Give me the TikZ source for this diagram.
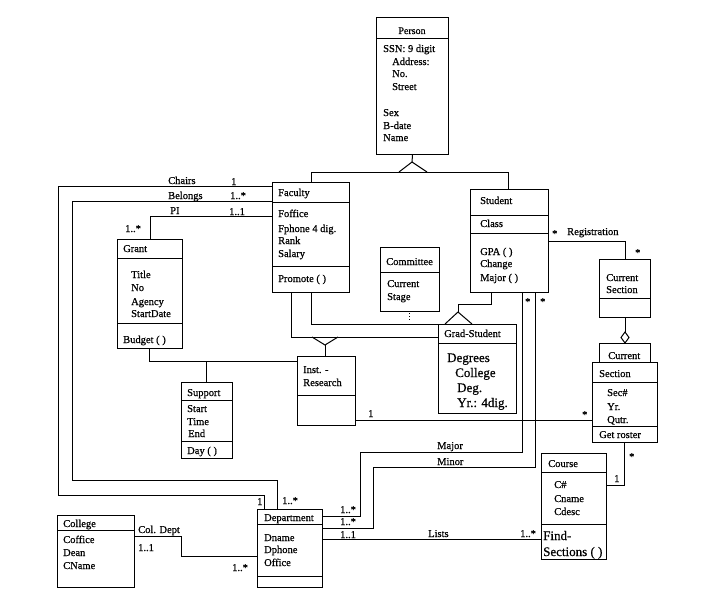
\documentclass[tikz,border=0pt]{standalone}
\usepackage{fontspec}
\setmainfont{Liberation Serif}[FakeBold=0.6]
\tikzset{
  ln/.style={line width=1pt},
  boxs/.style={draw, line width=1pt, inner sep=0pt, anchor=north west},
  txt/.style={anchor=base west, inner sep=0pt, font=\fontsize{10.5}{12}\selectfont},
  big/.style={txt, font=\fontsize{13}{15}\selectfont},
  ctr/.style={txt, anchor=base, font=\fontsize{10}{12}\selectfont},
}
\newcommand\UBox[5]{\node[boxs, minimum width=#4pt, minimum height=#5pt] (#1) at (#2,#3) {};}
\newcommand\USep[2]{\draw[ln] ([yshift=-#2pt]#1.north west) -- ([yshift=-#2pt]#1.north east);}
\newcommand\UT[4]{\node[txt] (#1) at (#2,#3) {#4};}
\newcommand\UB[4]{\node[big] (#1) at (#2,#3) {#4};}
\begin{document}
\begin{tikzpicture}[x=1pt,y=-1pt]
\useasboundingbox (0,0) rectangle (707,605);
% ---------- boxes ----------
\UBox{person}{376}{17}{72}{137} \USep{person}{21}
\UBox{fac}{272}{182}{77}{110} \USep{fac}{20} \USep{fac}{84}
\UBox{std}{470}{189}{78}{103} \USep{std}{26} \USep{std}{44}
\UBox{comm}{380}{247}{59}{64} \USep{comm}{25}
\UBox{grant}{117}{239}{65}{109} \USep{grant}{19} \USep{grant}{84}
\UBox{sup}{181}{382}{51}{76} \USep{sup}{18} \USep{sup}{59}
\UBox{inst}{297}{356}{58}{69} \USep{inst}{39}
\UBox{grad}{438}{324}{78}{89} \USep{grad}{19}
\UBox{cs}{599}{259}{51}{58} \USep{cs}{39}
\UBox{cur}{599}{343}{51}{19}
\UBox{sec}{592}{362}{65}{80} \USep{sec}{20} \USep{sec}{64}
\UBox{course}{541}{453}{65}{106} \USep{course}{19} \USep{course}{71}
\UBox{dep}{257}{509}{65}{78} \USep{dep}{15} \USep{dep}{67}
\UBox{col}{57}{515}{77}{72} \USep{col}{15}
% ---------- texts ----------
\node[ctr] (pT) at (412,34) {Person};
\UT{p1}{383}{52}{SSN: 9 digit}
\UT{p2}{392}{65}{Address:}
\UT{p3}{392}{77}{No.}
\UT{p4}{392}{90}{Street}
\UT{p5}{383}{116}{Sex}
\UT{p6}{383}{129}{B-date}
\UT{p7}{383}{141}{Name}
\UT{fT}{278}{196}{Faculty}
\UT{f1}{278}{217}{Foffice}
\UT{f2}{278}{232}{Fphone 4 dig.}
\UT{f3}{278}{244}{Rank}
\UT{f4}{278}{257}{Salary}
\UT{f5}{278}{282}{Promote ( )}
\UT{sT}{480}{204}{Student}
\UT{s1}{480}{227}{Class}
\UT{s2}{480}{255}{GPA ( )}
\UT{s3}{480}{267}{Change}
\UT{s4}{480}{281}{Major ( )}
\UT{cT}{386}{265}{Committee}
\UT{c1}{387}{287}{Current}
\UT{c2}{387}{300}{Stage}
\UT{gT}{123}{252}{Grant}
\UT{g1}{131}{278}{Title}
\UT{g2}{131}{291}{No}
\UT{g3}{131}{305}{Agency}
\UT{g4}{131}{317}{StartDate}
\UT{g5}{123}{343}{Budget ( )}
\UT{uT}{187}{396}{Support}
\UT{u1}{187}{412}{Start}
\UT{u2}{187}{425}{Time}
\UT{u3}{188}{437}{End}
\UT{u4}{187}{454}{Day ( )}
\UT{i1}{303}{373}{Inst. -}
\UT{i2}{303}{386}{Research}
\UT{rT}{444}{337}{Grad-Student}
\UB{r1}{447}{362}{Degrees}
\UB{r2}{455}{377}{College}
\UB{r3}{457}{392}{Deg.}
\UB{r4}{457}{407}{Yr.: 4dig.}
\UT{cs1}{606}{281}{Current}
\UT{cs2}{606}{293}{Section}
\UT{cuT}{608}{359}{Current}
\UT{eT}{599}{377}{Section}
\UT{e1}{607}{396}{Sec\#}
\UT{e2}{607}{410}{Yr.}
\UT{e3}{607}{423}{Qutr.}
\UT{e4}{599}{438}{Get roster}
\UT{oT}{548}{467}{Course}
\UT{o1}{554}{488}{C\#}
\UT{o2}{554}{502}{Cname}
\UT{o3}{554}{515}{Cdesc}
\UB{o4}{543}{540}{Find-}
\UB{o5}{543}{556}{Sections ( )}
\UT{dT}{264}{521}{Department}
\UT{d1}{264}{541}{Dname}
\UT{d2}{264}{553}{Dphone}
\UT{d3}{264}{566}{Office}
\UT{lT}{63}{527}{College}
\UT{l1}{63}{543}{Coffice}
\UT{l2}{63}{556}{Dean}
\UT{l3}{63}{569}{CName}
% ---------- labels ----------
\UT{a1}{168}{184}{Chairs}
\UT{a2}{231}{185}{1}
\UT{a3}{168}{199}{Belongs}
\UT{a4}{230}{199}{1..*}
\UT{a5}{170}{214}{PI}
\UT{a6}{229}{215}{1..1}
\UT{a7}{125}{232}{1..*}
\UT{a8}{552}{237}{*}
\UT{a9}{567}{235}{Registration}
\UT{a10}{635}{256}{*}
\UT{a11}{368}{417}{1}
\UT{a12}{582}{418}{*}
\UT{a13}{437}{449}{Major}
\UT{a14}{437}{465}{Minor}
\UT{a15}{629}{460}{*}
\UT{a16}{614}{482}{1}
\UT{a17}{525}{305}{*}
\UT{a18}{540}{305}{*}
\UT{a19}{340}{513}{1..*}
\UT{a20}{340}{525}{1..*}
\UT{a21}{340}{538}{1..1}
\UT{a22}{428}{537}{Lists}
\UT{a23}{520}{537}{1..*}
\UT{a24}{257}{505}{1}
\UT{a25}{282}{504}{1..*}
\UT{a26}{138}{533}{Col. Dept}
\UT{a27}{138}{551}{1..1}
\UT{a28}{232}{571}{1..*}
% ---------- connectors ----------
% generalisation Person
\draw[ln] (person.south) -- (412,162);
\draw[ln] (399,172) -- (412,162) -- (427,172);
\draw[ln] (311,0 |- fac.north) -- (311,172) -- (508,172) -- (508,0 |- std.north);
% Chairs
\draw[ln] (fac.west |- 0,186) -- (58,186) -- (58,495) -- (264,495) -- (264,0 |- dep.north);
% Belongs
\draw[ln] (fac.west |- 0,201) -- (72,201) -- (72,480) -- (277,480) -- (277,0 |- dep.north);
% PI
\draw[ln] (fac.west |- 0,216) -- (150,216) -- (150,0 |- grant.north);
% Grant - Inst, Support
\draw[ln] (149,0 |- grant.south) -- (149,361) -- (inst.west |- 0,361);
\draw[ln] (206,361) -- (206,0 |- sup.north);
% Faculty - Grad (Inst.-Research)
\draw[ln] (291,0 |- fac.south) -- (291,337) -- (grad.west |- 0,337);
\draw[ln] (312,337) -- (325,345) -- (338,337);
\draw[ln] (325,345) -- (325,0 |- inst.north);
% Faculty - Grad (Committee)
\draw[ln] (311,0 |- fac.south) -- (311,324) -- (grad.north west);
\draw[line width=1pt, dotted] (409,313) -- (409,322);
% Student - Grad generalisation
\draw[ln] (491,0 |- std.south) -- (491,304) -- (458,304) -- (458,312);
\draw[ln] (445,0 |- grad.north) -- (458,312) -- (472,0 |- grad.north);
% Major / Minor
\draw[ln] (522,0 |- std.south) -- (522,452) -- (360,452) -- (360,516) -- (dep.east |- 0,516);
\draw[ln] (535,0 |- std.south) -- (535,467) -- (373,467) -- (373,528) -- (dep.east |- 0,528);
% Lists
\draw[ln] (dep.east |- 0,539) -- (course.west |- 0,539);
% Registration
\draw[ln] (std.east |- 0,241) -- (625,241) -- (625,0 |- cs.north);
% aggregation Current Section - Section
\coordinate (dtop) at (625,332);
\draw[ln] (625,0 |- cs.south) -- (dtop);
\draw[ln] (dtop) -- (629,337.5) -- (625,0 |- cur.north) -- (621,337.5) -- cycle;
% Section - Course
\draw[ln] (624,0 |- sec.south) -- (624,485) -- (course.east |- 0,485);
% Inst - Section
\draw[ln] (inst.east |- 0,420) -- (sec.west |- 0,420);
% College - Department
\draw[ln] (col.east |- 0,536) -- (181,536) -- (181,556) -- (dep.west |- 0,556);
\end{tikzpicture}
\end{document}
